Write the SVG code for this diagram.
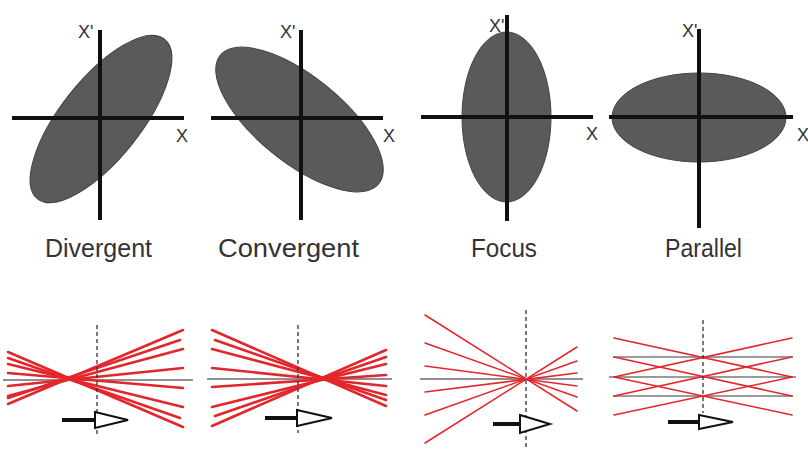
<svg xmlns="http://www.w3.org/2000/svg" width="808" height="456" viewBox="0 0 808 456">
<style>
.bg{fill:#ffffff}
.ell{fill:#5a5a5a;stroke:#444;stroke-width:1}
.axis{stroke:#111;stroke-width:4;fill:none}
.lbl{font-family:"Liberation Sans",Arial,sans-serif;font-size:25px;fill:#333}
.ax{font-family:"Liberation Sans",Arial,sans-serif;font-size:18px;fill:#333}
.base{stroke:#222;stroke-width:1.2;fill:none}
.gray{stroke:#7a7a7a;stroke-width:1.6;fill:none}
.dash{stroke:#333;stroke-width:1.3;stroke-dasharray:4 3;fill:none}
.rayT{stroke:#e3262b;stroke-width:2.6;fill:none;stroke-linecap:round}
.ray{stroke:#e3262b;stroke-width:1.5;fill:none;stroke-linecap:round}
.shaft{stroke:#111;stroke-width:4;fill:none}
.head{fill:#fff;stroke:#111;stroke-width:2;stroke-linejoin:miter}
</style>
<rect class="bg" x="0" y="0" width="808" height="456"/>

<g id="divergent-phase">
<ellipse class="ell" cx="101" cy="119" rx="102" ry="40" transform="rotate(-51.5 101 119)"/>
<line class="axis" x1="100" y1="30" x2="100" y2="220"/>
<line class="axis" x1="12" y1="118" x2="184" y2="118"/>
<text class="ax" x="78" y="38">X'</text>
<text class="ax" x="176" y="142">X</text>
<text class="lbl" x="45" y="257" textLength="107" lengthAdjust="spacingAndGlyphs">Divergent</text>
</g>

<g id="convergent-phase">
<ellipse class="ell" cx="299.5" cy="119.5" rx="102" ry="43" transform="rotate(39 299.5 119.5)"/>
<line class="axis" x1="301" y1="30" x2="301" y2="220"/>
<line class="axis" x1="211" y1="118" x2="383" y2="118"/>
<text class="ax" x="280" y="38">X'</text>
<text class="ax" x="383" y="142">X</text>
<text class="lbl" x="218" y="257" textLength="141" lengthAdjust="spacingAndGlyphs">Convergent</text>
</g>

<g id="focus-phase">
<ellipse class="ell" cx="506.5" cy="117" rx="44.5" ry="85"/>
<line class="axis" x1="507" y1="15" x2="507" y2="221"/>
<line class="axis" x1="421" y1="117" x2="593" y2="117"/>
<text class="ax" x="489" y="32">X'</text>
<text class="ax" x="586" y="140">X</text>
<text class="lbl" x="471" y="257" textLength="66" lengthAdjust="spacingAndGlyphs">Focus</text>
</g>

<g id="parallel-phase">
<ellipse class="ell" cx="699" cy="117.5" rx="87" ry="44.5"/>
<line class="axis" x1="699" y1="29" x2="699" y2="228"/>
<line class="axis" x1="609" y1="117" x2="793" y2="117"/>
<text class="ax" x="682" y="37">X'</text>
<text class="ax" x="797" y="141">X</text>
<text class="lbl" x="665" y="257" textLength="77" lengthAdjust="spacingAndGlyphs">Parallel</text>
</g>

<g id="divergent-beam">
<line class="base" x1="3" y1="380" x2="193" y2="380"/>
<line class="rayT" x1="8" y1="404" x2="183" y2="330"/>
<line class="rayT" x1="8" y1="396" x2="183" y2="349"/>
<line class="rayT" x1="8" y1="386" x2="183" y2="368"/>
<line class="rayT" x1="8" y1="373" x2="183" y2="388"/>
<line class="rayT" x1="8" y1="364" x2="183" y2="407"/>
<line class="rayT" x1="8" y1="352" x2="183" y2="427"/>
<line class="rayT" x1="8" y1="398" x2="180" y2="340"/>
<line class="rayT" x1="8" y1="358" x2="180" y2="418"/>
<line class="dash" x1="97" y1="325" x2="97" y2="435"/>
<line class="shaft" x1="62" y1="420" x2="95" y2="420"/>
<polygon class="head" points="95,412 128,420 95,428"/>
</g>

<g id="convergent-beam">
<line class="base" x1="207" y1="379" x2="392" y2="379"/>
<line class="rayT" x1="212" y1="330" x2="386" y2="406"/>
<line class="rayT" x1="212" y1="349" x2="386" y2="395"/>
<line class="rayT" x1="212" y1="368" x2="386" y2="386"/>
<line class="rayT" x1="212" y1="387" x2="386" y2="375"/>
<line class="rayT" x1="212" y1="407" x2="386" y2="364"/>
<line class="rayT" x1="212" y1="426" x2="386" y2="350"/>
<line class="rayT" x1="215" y1="340" x2="386" y2="400"/>
<line class="rayT" x1="215" y1="416" x2="386" y2="357"/>
<line class="dash" x1="298" y1="325" x2="298" y2="433"/>
<line class="shaft" x1="265" y1="418" x2="297" y2="418"/>
<polygon class="head" points="297,410 332,418 297,426"/>
</g>

<g id="focus-beam">
<line class="base" x1="420" y1="379" x2="583" y2="379"/>
<line class="ray" x1="425" y1="315" x2="577" y2="411"/>
<line class="ray" x1="425" y1="343" x2="577" y2="397"/>
<line class="ray" x1="425" y1="366" x2="577" y2="386"/>
<line class="ray" x1="425" y1="392" x2="577" y2="373"/>
<line class="ray" x1="425" y1="415" x2="577" y2="361"/>
<line class="ray" x1="425" y1="443" x2="577" y2="347"/>
<line class="dash" x1="526" y1="310" x2="526" y2="448"/>
<line class="shaft" x1="493" y1="424" x2="520" y2="424"/>
<polygon class="head" points="520,415 550,424 520,433"/>
</g>

<g id="parallel-beam">
<line class="gray" x1="613" y1="357" x2="793" y2="357"/>
<line class="gray" x1="609" y1="377" x2="796" y2="377"/>
<line class="gray" x1="613" y1="396" x2="793" y2="396"/>
<line class="ray" x1="614" y1="377" x2="792" y2="338"/>
<line class="ray" x1="614" y1="338" x2="792" y2="377"/>
<line class="ray" x1="614" y1="357" x2="792" y2="396"/>
<line class="ray" x1="614" y1="396" x2="792" y2="357"/>
<line class="ray" x1="614" y1="377" x2="792" y2="415"/>
<line class="ray" x1="614" y1="415" x2="792" y2="377"/>
<line class="dash" x1="703" y1="320" x2="703" y2="413"/>
<line class="shaft" x1="668" y1="422" x2="699" y2="422"/>
<polygon class="head" points="699,415 733,422 699,429"/>
</g>
</svg>
